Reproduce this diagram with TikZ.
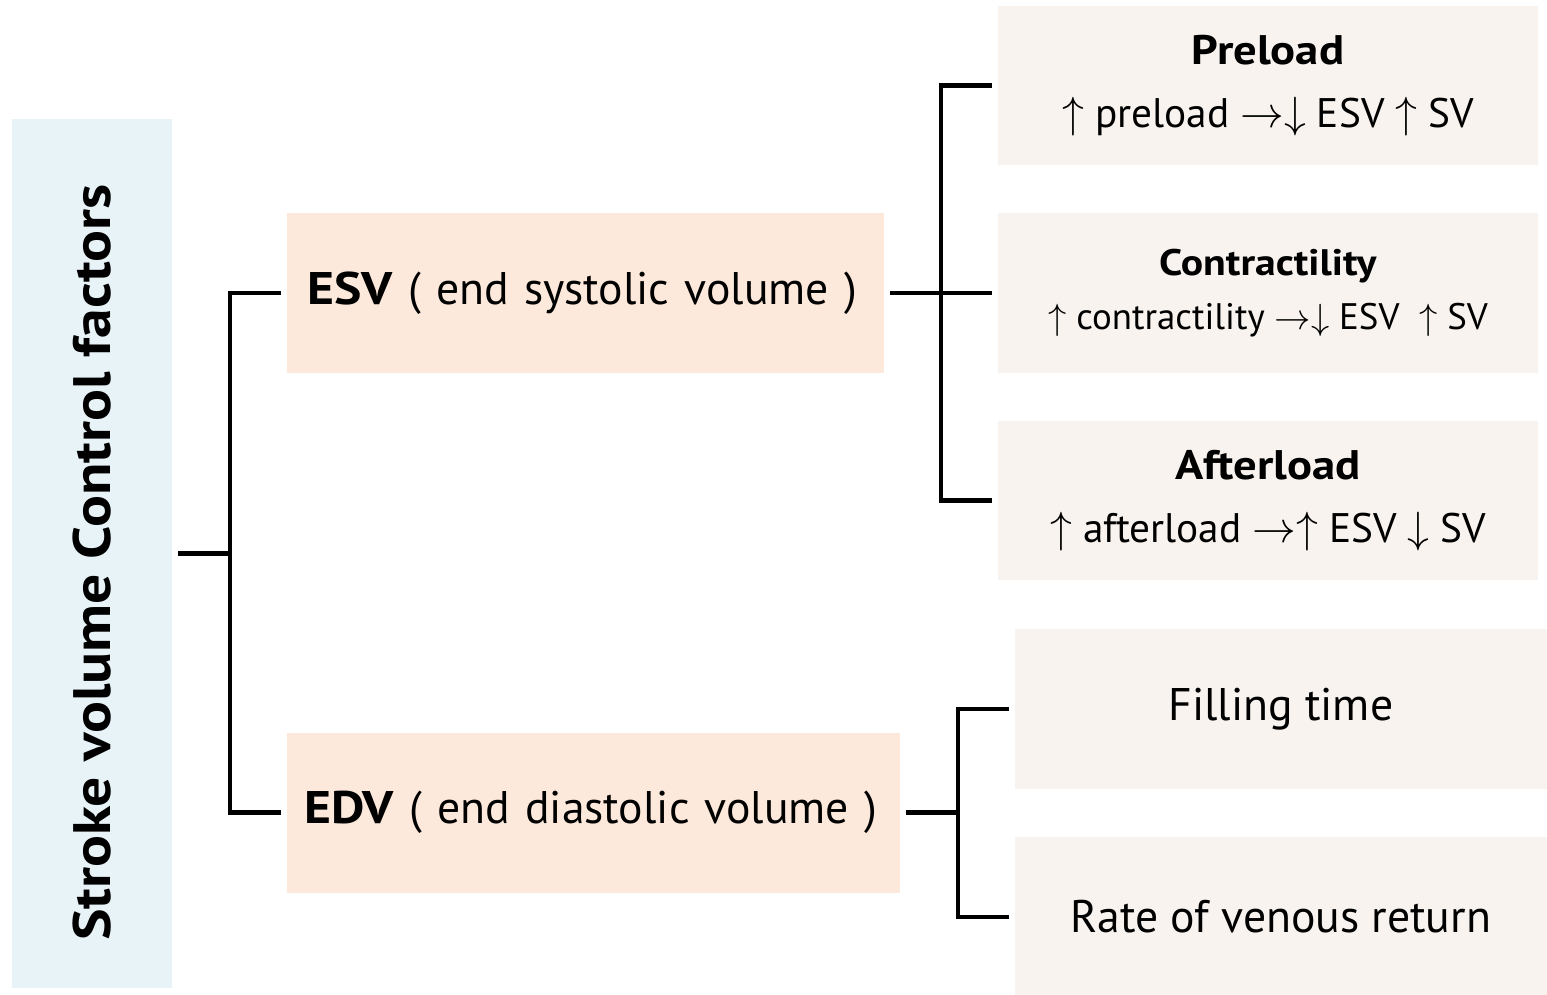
\documentclass[tikz,border=0pt]{standalone}
\usepackage{fontspec}
\setmainfont{PT Sans}[BoldFeatures={FakeStretch=1.13}]
\definecolor{rootblue}{HTML}{E8F3F8}
\definecolor{volpeach}{HTML}{FCE9DB}
\definecolor{factorbeige}{HTML}{F8F3EF}

\begin{document}
\begin{tikzpicture}[x=0.02cm,y=-0.02cm,
  every node/.style={inner sep=0pt,outer xsep=0.12cm,align=center},
  branch/.style={line width=2.3pt}]
  \tikzstyle{root} = [fill=rootblue,minimum width=3.2cm,minimum height=17.38cm]
  \tikzstyle{volume} = [fill=volpeach,minimum height=3.2cm,align=left,font=\fontsize{26}{30}\selectfont]
  \tikzstyle{factor} = [fill=factorbeige,minimum width=10.8cm,minimum height=3.2cm]
  \useasboundingbox (0,0) rectangle (1547,994);
  \node (sv) [root] at (92,553.5)
    {\rotatebox{90}{\fontsize{30}{32}\selectfont\bfseries Stroke volume Control factors\hspace*{0.36cm}}};
  \node (esv) [volume,minimum width=11.94cm,text width=11.14cm] at (585.5,293)
    {\textbf{ESV} ( end systolic volume )};
  \node (edv) [volume,minimum width=12.26cm,text width=11.58cm] at (593.5,812.5)
    {\textbf{EDV} ( end diastolic volume )};
  \node (pre) [factor,font=\fontsize{23.5}{36}\selectfont] at (1268,85.5)
    {\textbf{Preload}\\ $\uparrow$ preload $\rightarrow\downarrow$ ESV $\uparrow$ SV};
  \node (con) [factor,font=\fontsize{21}{31}\selectfont] at (1268,293)
    {\textbf{Contractility}\\ $\uparrow$ contractility $\rightarrow\downarrow$ ESV\ \ $\uparrow$ SV};
  \node (aft) [factor,font=\fontsize{23.5}{36}\selectfont] at (1268,500.5)
    {\textbf{Afterload}\\ $\uparrow$ afterload $\rightarrow\uparrow$ ESV $\downarrow$ SV};
  \node (fill) [factor,minimum width=10.64cm,font=\fontsize{26}{30}\selectfont] at (1281,709)
    {Filling time};
  \node (rate) [factor,minimum width=10.64cm,font=\fontsize{26}{30}\selectfont] at (1281,917)
    {Rate of venous return};
  \draw[branch] (sv.east) -- ++(52,0) coordinate (j_sv) |- (esv.west);
  \draw[branch] (j_sv) |- (edv.west);
  \draw[branch] (esv.east) -- ++(51,0) coordinate (j_esv) |- (pre.west);
  \draw[branch] (j_esv) -- (con.west);
  \draw[branch] (j_esv) |- (aft.west);
  \draw[branch] (edv.east) -- ++(52,0) coordinate (j_edv) |- (fill.west);
  \draw[branch] (j_edv) |- (rate.west);
\end{tikzpicture}
\end{document}
